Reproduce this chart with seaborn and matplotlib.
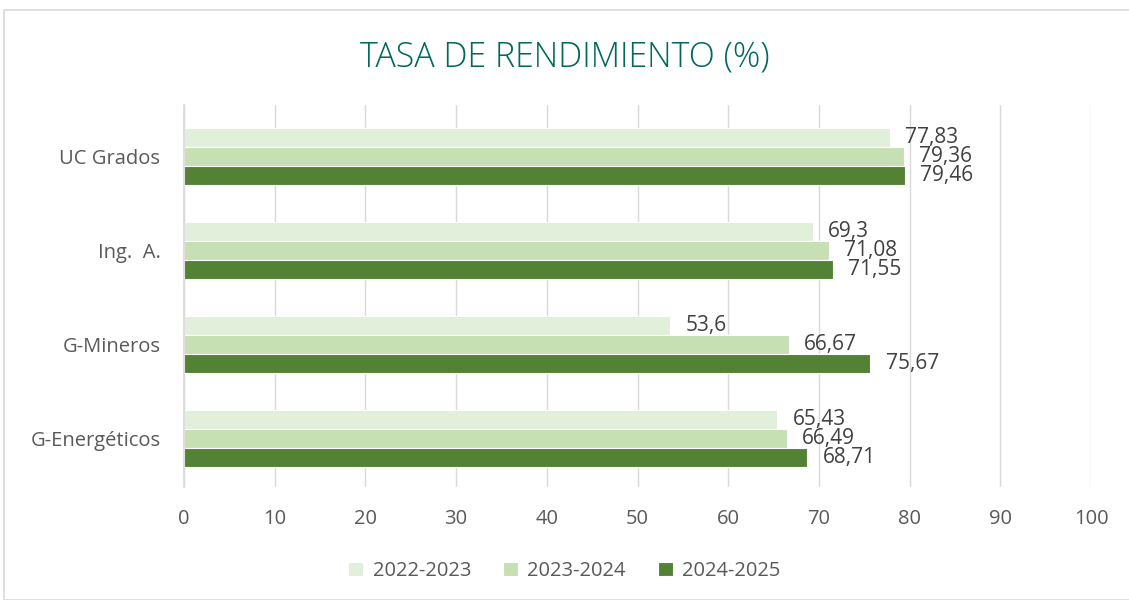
import matplotlib
matplotlib.use("Agg")
import matplotlib.pyplot as plt
import seaborn as sns
import pandas as pd
from matplotlib.patches import Rectangle

categories = ["UC Grados", "Ing.  A.", "G-Mineros", "G-Energéticos"]
series_names = ["2022-2023", "2023-2024", "2024-2025"]
v_2022 = [77.83, 69.3, 53.6, 65.43]
v_2023 = [79.36, 71.08, 66.67, 66.49]
v_2024 = [79.46, 71.55, 75.67, 68.71]
x_ticks = [0, 10, 20, 30, 40, 50, 60, 70, 80, 90, 100]
colors = ["#E2EFDA", "#C6E0B4", "#548235"]

rows = []
for s, vals in zip(series_names, [v_2022, v_2023, v_2024]):
    for c, v in zip(categories, vals):
        rows.append({"cat": c, "serie": s, "val": v})
df = pd.DataFrame(rows)

sns.set_theme(style="white")
plt.rcParams["font.family"] = ["Open Sans", "DejaVu Sans"]

fig = plt.figure(figsize=(11.29, 6), dpi=100)
ax = fig.add_axes([184/1129, 1-487/600, (1091-184)/1129, (487-105)/600])

sns.barplot(data=df, y="cat", x="val", hue="serie", order=categories,
            hue_order=series_names, palette=colors, orient="h",
            width=0.61, ax=ax, legend=True, saturation=1,
            edgecolor="white", linewidth=0.8)

ax.set_xlim(0, 100)
ax.set_ylim(3.52, -0.55)
ax.set_xticks(x_ticks)
ax.set_xticklabels([str(t) for t in x_ticks], fontsize=14.5, color="#595959")
ax.tick_params(axis="x", length=0, pad=16)
ax.tick_params(axis="y", length=0, pad=17, labelsize=14.5, labelcolor="#595959")
ax.set_xlabel("")
ax.set_ylabel("")
ax.grid(axis="x", color="#D9D9D9", linewidth=1)
ax.set_axisbelow(True)
for sp in ["top", "right", "bottom"]:
    ax.spines[sp].set_visible(False)
ax.spines["left"].set_color("#D9D9D9")

for cont in ax.containers:
    labels = [f"{v:g}".replace(".", ",") for v in cont.datavalues]
    ax.bar_label(cont, labels=labels, padding=11, fontsize=15, color="#404040")

handles, labs = ax.get_legend_handles_labels()
ax.legend_.remove()
fig.legend(handles, labs, loc="center", bbox_to_anchor=(0.5, 1-571/600), ncol=3,
           frameon=False, fontsize=14.5, labelcolor="#595959", handlelength=0.75,
           handleheight=0.75, columnspacing=1.6, handletextpad=0.45)

fig.text(0.5, 1-57/600, "TASA DE RENDIMIENTO (%)", ha="center", va="center",
         fontsize=24.5, color="#00695C", fontweight="light")

fig.patches.append(Rectangle((4/1129, 0), 1.2, 1-10/600, transform=fig.transFigure,
                             fill=False, edgecolor="#D9D9D9", linewidth=1.2))

fig.savefig("out.png", dpi=100)
